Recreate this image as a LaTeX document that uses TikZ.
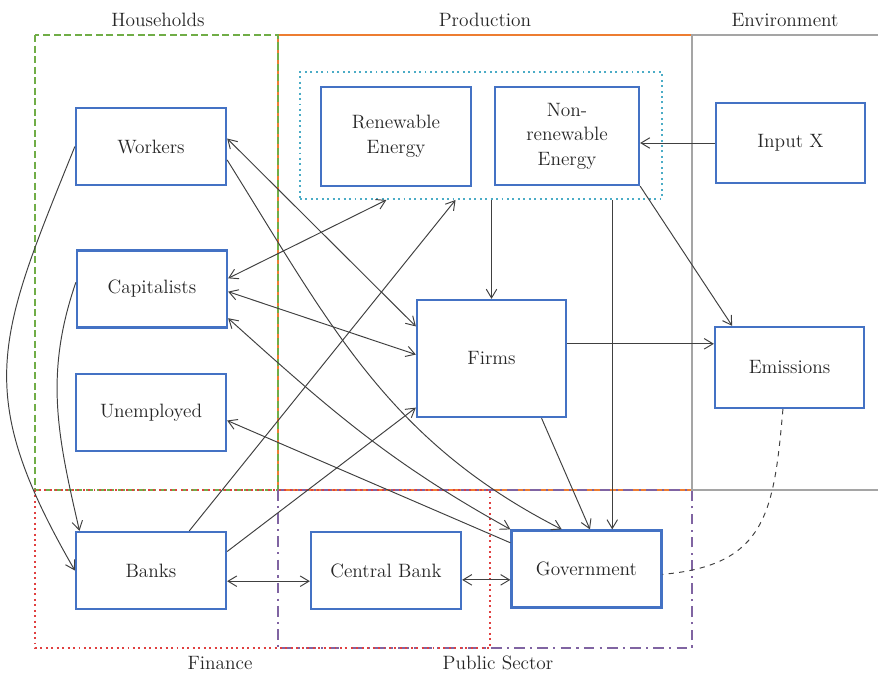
\documentclass[tikz,border=0pt]{standalone}
\usepackage{xcolor}
\usepackage{tikz}
\usetikzlibrary{positioning,calc,arrows.meta}
\definecolor{boxblue}{HTML}{4472C4}
\definecolor{hgreen}{HTML}{70AD47}
\definecolor{porange}{HTML}{ED7D31}
\definecolor{envgray}{HTML}{A5A5A5}
\definecolor{finred}{HTML}{E04040}
\definecolor{pubpurple}{HTML}{8064A2}
\definecolor{encyan}{HTML}{4BACC6}
\definecolor{linegray}{HTML}{404040}

\begin{document}
\begin{tikzpicture}[x=0.02cm,y=0.02cm,
    font=\fontsize{11}{14}\selectfont,
    >={Straight Barb[length=5pt,width=6pt]},
    box/.style={draw=boxblue,line width=1.3pt,minimum width=3cm,minimum height=1.54cm,
        align=center,inner sep=2pt,text=black!85},
    flow/.style={draw=linegray,line width=0.55pt},
    region/.style={line width=1.1pt},
    title/.style={text=black!85}]
    \useasboundingbox (0,0) rectangle (878,-673);

    \draw[region,porange] (278,-35) rectangle (692,-490);
    \draw[region,hgreen,dash pattern=on 4pt off 2pt] (35,-35) rectangle (278,-490);
    \draw[region,pubpurple,dash pattern=on 6pt off 3pt on 1.2pt off 3pt] (278,-490) rectangle (692,-648);
    \draw[region,finred,dotted] (35,-490) rectangle (490,-648);
    \draw[region,envgray] (878,-35) -- (692,-35) -- (692,-490) -- (878,-490);
    \node[region,draw=encyan,dotted,minimum width=7.24cm,minimum height=2.54cm] (energy) at (481,-135.5) {};

    \foreach \x/\y/\label in {158/20/Households, 485/20/Production, 785/20/Environment, 220/663/Finance, 498/663/Public Sector}
        \node[title] at (\x,-\y) {\label};

    \foreach \name/\x/\y/\label in {workers/151/146.5/Workers, cap/152/289/Capitalists, unemp/151/412.5/Unemployed,
        banks/151/570.5/Banks, cbank/386/570.5/Central Bank, gov/586.5/569/Government}
        \node[box] (\name) at (\x,-\y) {\label};
    \node[box,minimum height=1.98cm] (renew) at (396,-136.5) {Renewable\\Energy};
    \node[box,minimum width=2.88cm,minimum height=1.96cm] (nonren) at (567,-136) {Non-\\renewable\\Energy};
    \node[box,minimum width=2.98cm,minimum height=1.6cm] (input) at (790.5,-143) {Input X};
    \node[box,minimum width=2.98cm,minimum height=2.34cm] (firms) at (491.5,-358.5) {Firms};
    \node[box,minimum width=2.98cm,minimum height=1.62cm] (emis) at (789.5,-367.5) {Emissions};

    \draw[flow,->] (workers.west) to[out=248,in=120,looseness=1.25] (banks.west);
    \draw[flow,->] (cap.175) to[out=251,in=103] (banks.151);
    \draw[flow,<->] (workers.6) -- (firms.157);
    \draw[flow,->] (workers.-10) to[out=-58,in=153] (gov.122);
    \draw[flow,<->] (cap.8) -- ($(energy.south west)!0.24!(energy.south east)$);
    \draw[flow,<->] (cap.-2) -- (firms.177);
    \draw[flow,<->] (cap.-21) to[out=-42,in=151] (gov.north west);
    \draw[flow,->] (gov.161) -- (unemp.-6);
    \draw[flow,->] (banks.46) -- ($(energy.south west)!0.43!(energy.south east)$);
    \draw[flow,->] (banks.14) -- (firms.213);
    \draw[flow,<->] (banks.-8) -- (banks.-8 -| cbank.west);
    \draw[flow,<->] (cbank.-7) -- (cbank.-7 -| gov.west);
    \draw[flow,->] (firms.north |- energy.south) -- (firms.north);
    \draw[flow,->] (energy.south -| gov.57) -- (gov.57);
    \draw[flow,->] (firms.-50) -- (gov.85);
    \draw[flow,->] (firms.11) -- (firms.11 -| emis.west);
    \draw[flow,->] (nonren.south east) -- (emis.144);
    \draw[flow,->] (input.west) -- (input.west -| nonren.east);
    \draw[flow,dashed] (emis.-99) to[out=-95,in=5,looseness=1.3] (gov.-4);
\end{tikzpicture}
\end{document}
